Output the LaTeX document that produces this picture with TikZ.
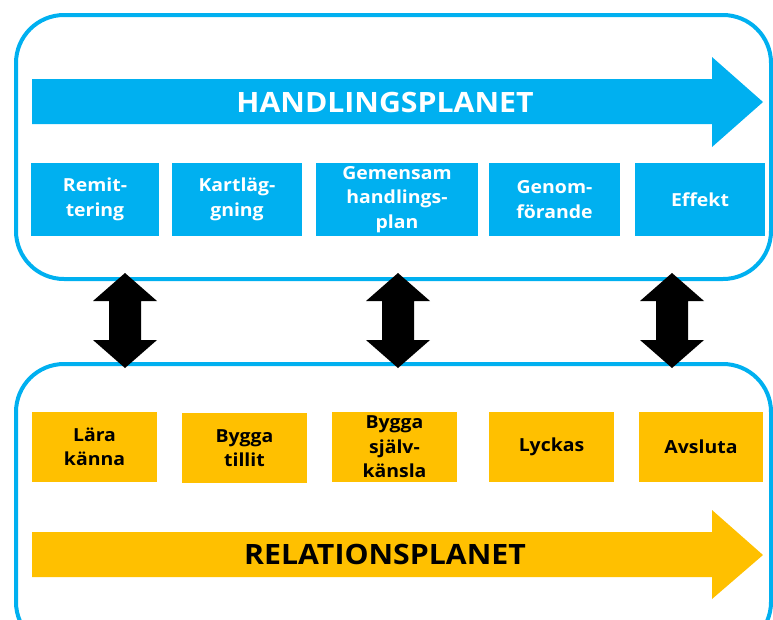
\documentclass[tikz,border=0pt]{standalone}
\usepackage{fontspec}
\setmainfont{Open Sans}[FakeStretch=1.08]
\definecolor{cblue}{HTML}{00B0F0}
\definecolor{corange}{HTML}{FFC000}
\begin{document}
\begin{tikzpicture}[x=1pt,y=-1pt,
  frame/.style={draw=cblue, line width=4pt, rounded corners=48pt},
  stagebox/.style={inner sep=0pt, align=center,
    font=\bfseries\fontsize{18}{24.5}\selectfont},
  bluebox/.style={stagebox, fill=cblue, text=white},
  orangebox/.style={stagebox, fill=corange, text=black},
  bigtitle/.style={font=\bfseries\fontsize{28}{30}\selectfont, inner sep=0pt},
  linkarrow/.style={fill=black}
]
\useasboundingbox (0,0) rectangle (773,619);
\clip (0,0) rectangle (773,619);

% the two planes
\draw[frame] (16,15) rectangle (771,279);
\draw[frame] (16,364) rectangle (771,650);

% flow arrow of the action plane
\fill[cblue] (32,79) -- (712,79) -- (712,57) -- (763,102) -- (712,147)
  -- (712,124) -- (32,124) -- cycle;
\node[bigtitle, text=white] (handling) at (385,102) {HANDLINGSPLANET};

% action stages
\node[bluebox, minimum width=128pt, minimum height=73pt] (remit) at (95,199.5) {Remit-\\tering};
\node[bluebox, minimum width=130pt, minimum height=73pt] (kart) at (237,199.5) {Kartläg-\\gning};
\node[bluebox, minimum width=162pt, minimum height=73pt] (plan) at (397,199.5) {Gemensam\\handlings-\\plan};
\node[bluebox, minimum width=131pt, minimum height=73pt] (genom) at (554.5,199.5) {Genom-\\förande};
\node[bluebox, minimum width=130pt, minimum height=73pt] (effekt) at (700,199.5) {Effekt};

% relation stages
\node[orangebox, minimum width=125pt, minimum height=70pt] (lara) at (94.5,447) {Lära\\känna};
\node[orangebox, minimum width=125pt, minimum height=70pt] (tillit) at (244.5,448) {Bygga\\tillit};
\node[orangebox, minimum width=125pt, minimum height=70pt] (sjalv) at (394.5,447) {Bygga\\själv-\\känsla};
\node[orangebox, minimum width=125pt, minimum height=70pt] (lyckas) at (551.5,447) {Lyckas};
\node[orangebox, minimum width=124pt, minimum height=70pt] (avsluta) at (701,447) {Avsluta};

% flow arrow of the relation plane
\fill[corange] (32,532) -- (712,532) -- (712,510) -- (763,555) -- (712,599)
  -- (712,577) -- (32,577) -- cycle;
\node[bigtitle, text=black] (relation) at (385,554) {RELATIONSPLANET};

% double-headed links between the planes
\foreach \cx in {125,398,672}{
  \fill[linkarrow] (\cx,273) -- (\cx+32,301) -- (\cx+16,301) -- (\cx+16,340)
    -- (\cx+32,340) -- (\cx,368) -- (\cx-32,340) -- (\cx-16,340)
    -- (\cx-16,301) -- (\cx-32,301) -- cycle;
}
\end{tikzpicture}
\end{document}
